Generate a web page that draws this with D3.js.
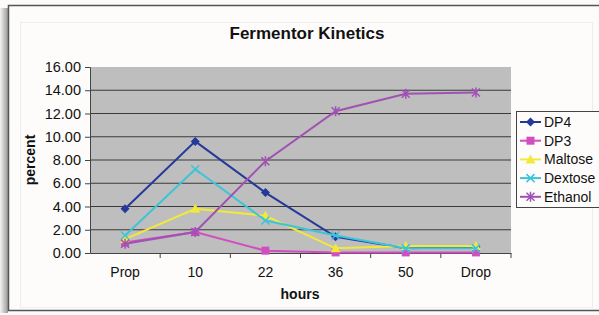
<!DOCTYPE html>
<html>
<head>
<meta charset="utf-8">
<script src="https://cdn.jsdelivr.net/npm/d3@7"></script>
<style>
  body { margin: 0; background: #fdfbfa; }
  svg text { font-family: "Liberation Sans", Arial, sans-serif; fill: #111; }
</style>
</head>
<body>
<div id="chart"></div>
<script>
// data
var hours = ["Prop", "10", "22", "36", "50", "Drop"];
var dp4 = [3.8, 9.6, 5.2, 1.4, 0.4, 0.5];
var dp3 = [0.9, 1.8, 0.2, 0.05, 0.05, 0.05];
var maltose = [1.2, 3.8, 3.2, 0.4, 0.6, 0.6];
var dextose = [1.5, 7.2, 2.8, 1.5, 0.4, 0.4];
var ethanol = [0.8, 1.8, 7.9, 12.2, 13.7, 13.8];
var yTicks = [0, 2, 4, 6, 8, 10, 12, 14, 16];

var series = [
  {name: "DP4", values: dp4, color: "#24399a", marker: "diamond"},
  {name: "DP3", values: dp3, color: "#d24cc2", marker: "square"},
  {name: "Maltose", values: maltose, color: "#f3e93a", marker: "triangle"},
  {name: "Dextose", values: dextose, color: "#3cc4d8", marker: "cross"},
  {name: "Ethanol", values: ethanol, color: "#a052b4", marker: "star"}
];

var width = 599, height = 315,
    margin = {top: 67, right: 88, bottom: 62, left: 90};

var svg = d3.select("#chart").append("svg")
    .attr("width", width)
    .attr("height", height);

// shadow on the left and frame
var grad = svg.append("defs").append("linearGradient").attr("id", "shade");
grad.append("stop").attr("offset", "0%").attr("stop-color", "#f4f4f4");
grad.append("stop").attr("offset", "100%").attr("stop-color", "#9a9a9a");
svg.append("rect").attr("x", 0).attr("y", 8).attr("width", 8).attr("height", 305)
    .attr("fill", "url(#shade)");
svg.append("rect").attr("x", 8.5).attr("y", 5.5).attr("width", 600).attr("height", 305)
    .attr("fill", "#fdfcfb").attr("stroke", "#555").attr("stroke-width", 1.5);
svg.append("rect").attr("x", 20.5).attr("y", 22.5).attr("width", 572).attr("height", 285)
    .attr("fill", "none").attr("stroke", "#eeeeee");

var x = d3.scaleBand()
    .domain(hours)
    .range([margin.left, width - margin.right]);

var y = d3.scaleLinear()
    .domain([0, 16])
    .range([height - margin.bottom, margin.top]);

// plot area
svg.append("rect")
    .attr("x", margin.left).attr("y", margin.top)
    .attr("width", width - margin.right - margin.left)
    .attr("height", height - margin.bottom - margin.top)
    .attr("fill", "#bebebe");

// grid lines
svg.append("g").selectAll("line")
    .data(yTicks.slice(1, -1))
    .enter().append("line")
    .attr("x1", margin.left).attr("x2", width - margin.right)
    .attr("y1", d => y(d)).attr("y2", d => y(d))
    .attr("stroke", "#3a3a3a").attr("stroke-width", 1.2);

// y axis
var yAxis = svg.append("g")
    .attr("transform", "translate(" + margin.left + ",0)")
    .call(d3.axisLeft(y).tickValues(yTicks).tickFormat(d3.format(".2f")).tickSize(5).tickPadding(4));
yAxis.selectAll("text").style("font-size", "14.5px");
yAxis.selectAll("line, path").attr("stroke", "#444");

// x axis, ticks between categories
var xAxis = svg.append("g")
    .attr("transform", "translate(0," + y(0) + ")")
    .call(d3.axisBottom(x).tickSize(0).tickPadding(14));
xAxis.selectAll("text").style("font-size", "14px");
xAxis.select("path").attr("stroke", "#444");
xAxis.selectAll(".sep")
    .data(hours)
    .enter().append("line")
    .attr("x1", d => x(d) + x.bandwidth()).attr("x2", d => x(d) + x.bandwidth())
    .attr("y1", 0).attr("y2", 5)
    .attr("stroke", "#444");

// titles
svg.append("text")
    .attr("x", 307).attr("y", 39)
    .attr("text-anchor", "middle")
    .style("font-size", "17px").style("font-weight", "bold")
    .text("Fermentor Kinetics");

svg.append("text")
    .attr("x", 300).attr("y", 299)
    .attr("text-anchor", "middle")
    .style("font-size", "14px").style("font-weight", "bold")
    .text("hours");

svg.append("text")
    .attr("transform", "translate(35," + ((margin.top + height - margin.bottom) / 2) + ") rotate(-90)")
    .attr("text-anchor", "middle")
    .style("font-size", "14px").style("font-weight", "bold")
    .text("percent");

var line = d3.line()
    .x((d, i) => x(hours[i]) + x.bandwidth() / 2)
    .y(d => y(d));

function drawMarker(g, type, color) {
  if (type === "diamond") {
    g.append("path").attr("d", "M0,-4.5L4.5,0L0,4.5L-4.5,0Z").attr("fill", color);
  } else if (type === "square") {
    g.append("rect").attr("x", -4).attr("y", -4).attr("width", 8).attr("height", 8).attr("fill", color);
  } else if (type === "triangle") {
    g.append("path").attr("d", "M0,-5L5,4L-5,4Z").attr("fill", color);
  } else if (type === "cross") {
    g.append("path").attr("d", "M-4,-4L4,4M-4,4L4,-4")
      .attr("stroke", color).attr("stroke-width", 1.5);
  } else {
    g.append("path").attr("d", "M-4,-4L4,4M-4,4L4,-4M0,-5L0,5")
      .attr("stroke", color).attr("stroke-width", 1.5);
  }
}

var lines = svg.append("g").selectAll("g")
    .data(series)
    .enter().append("g");

lines.append("path")
    .attr("d", d => line(d.values))
    .attr("fill", "none")
    .attr("stroke", d => d.color)
    .attr("stroke-width", 2);

lines.each(function(s) {
  var grp = d3.select(this);
  s.values.forEach(function(v, i) {
    var m = grp.append("g")
      .attr("transform", "translate(" + (x(hours[i]) + x.bandwidth() / 2) + "," + y(v) + ")");
    drawMarker(m, s.marker, s.color);
  });
});

// legend
var legend = svg.append("g");
legend.append("rect")
    .attr("x", 516.5).attr("y", 111.5).attr("width", 100).attr("height", 96)
    .attr("fill", "#fdfcfb").attr("stroke", "#444");

var item = legend.selectAll(".item")
    .data(series)
    .enter().append("g")
    .attr("transform", (d, i) => "translate(0," + (122 + i * 18.7) + ")");

item.append("line")
    .attr("x1", 520).attr("x2", 541)
    .attr("stroke", d => d.color).attr("stroke-width", 2);
item.each(function(s) {
  var m = d3.select(this).append("g").attr("transform", "translate(530.5,0)");
  drawMarker(m, s.marker, s.color);
});
item.append("text")
    .attr("x", 544).attr("y", 5)
    .style("font-size", "14px")
    .text(d => d.name);
</script>
</body>
</html>
